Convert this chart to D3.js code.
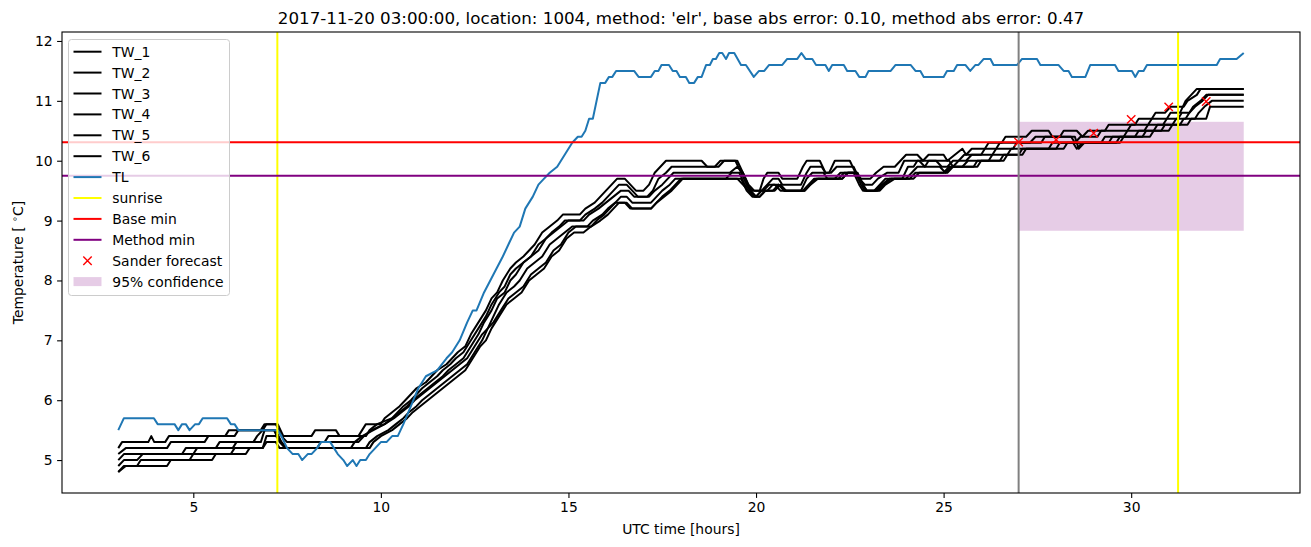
<!DOCTYPE html>
<html><head><meta charset="utf-8">
<script src="https://cdn.jsdelivr.net/npm/d3@7"></script>
<style>body{margin:0;background:#fff;} text{font-family:"DejaVu Sans",sans-serif;fill:#000;}</style>
</head><body><svg id="c" width="1311" height="547"></svg>
<script>
const title = "2017-11-20 03:00:00, location: 1004, method: 'elr', base abs error: 0.10, method abs error: 0.47";
const xLabel = "UTC time [hours]";
const xTicks = [5,10,15,20,25,30];
const yTicks = [5,6,7,8,9,10,11,12];
const twNames = ["TW_1","TW_2","TW_3","TW_4","TW_5","TW_6"];

const TW_1 = [[3.0,5.2],[3.1,5.3],[3.8,5.3],[3.88,5.4],[3.96,5.3],[4.25,5.3],[4.35,5.4],[5.85,5.4],[5.95,5.5],[6.85,5.5],[6.95,5.6],[7.25,5.6],[7.4,5.4],[8.15,5.4],[8.25,5.5],[8.8,5.5],[8.9,5.4],[9.4,5.4],[9.5,5.5],[9.6,5.6],[10.0,5.6],[10.1,5.7],[10.3,5.8],[10.5,5.9],[10.65,6.0],[10.8,6.1],[10.95,6.2],[11.2,6.3],[11.35,6.4],[11.5,6.5],[11.75,6.6],[11.9,6.7],[12.05,6.8],[12.25,6.9],[12.4,7.1],[12.6,7.3],[12.8,7.5],[12.95,7.7],[13.1,7.8],[13.25,8.0],[13.45,8.2],[13.6,8.3],[13.8,8.4],[13.95,8.5],[14.1,8.6],[14.3,8.8],[14.5,8.9],[14.7,9.0],[14.85,9.1],[15.3,9.1],[15.45,9.2],[15.7,9.3],[15.85,9.4],[16.0,9.5],[16.15,9.6],[16.3,9.7],[16.5,9.7],[16.65,9.6],[16.8,9.5],[17.0,9.5],[17.15,9.6],[17.3,9.8],[17.45,9.9],[17.6,10.0],[18.55,10.0],[18.7,9.9],[19.0,9.9],[19.15,10.0],[19.45,10.0],[19.6,9.8],[19.75,9.6],[19.9,9.5],[20.1,9.5],[20.2,9.7],[20.3,9.8],[20.6,9.8],[20.7,9.7],[21.1,9.7],[21.25,9.9],[21.35,10.0],[21.7,10.0],[21.85,9.8],[21.95,9.8],[22.1,10.0],[22.5,10.0],[22.65,9.8],[22.8,9.7],[23.05,9.7],[23.2,9.8],[23.4,9.9],[23.7,9.9],[23.85,10.0],[24.0,10.1],[24.3,10.1],[24.45,10.0],[24.6,10.1],[25.0,10.1],[25.1,10.0],[25.3,10.1],[25.5,10.2],[25.6,10.1],[25.75,10.2],[26.1,10.2],[26.2,10.3],[26.55,10.3],[26.65,10.4],[27.2,10.4],[27.35,10.5],[27.8,10.5],[27.9,10.4],[28.1,10.4],[28.2,10.5],[28.55,10.5],[28.7,10.4],[28.85,10.5],[29.3,10.5],[29.4,10.6],[30.1,10.6],[30.2,10.7],[30.55,10.7],[30.65,10.8],[30.9,10.8],[31.05,10.9],[31.4,10.9],[31.5,11.0],[31.75,11.1],[31.85,11.2],[33.0,11.2]];
const TW_2 = [[3.0,5.1],[3.2,5.2],[4.3,5.2],[4.4,5.3],[5.3,5.3],[5.4,5.4],[6.1,5.4],[6.2,5.5],[6.8,5.5],[6.9,5.6],[7.2,5.6],[7.35,5.4],[7.5,5.3],[8.5,5.3],[8.6,5.4],[9.6,5.4],[9.7,5.5],[9.9,5.6],[10.3,5.7],[10.45,5.8],[10.6,5.9],[10.8,6.0],[10.95,6.1],[11.1,6.2],[11.3,6.3],[11.5,6.4],[11.65,6.5],[11.85,6.6],[12.0,6.7],[12.2,6.8],[12.4,7.0],[12.6,7.2],[12.8,7.4],[12.95,7.6],[13.15,7.8],[13.3,7.9],[13.45,8.1],[13.6,8.2],[13.8,8.3],[14.0,8.4],[14.2,8.6],[14.4,8.7],[14.55,8.8],[14.75,8.9],[14.9,9.0],[15.3,9.0],[15.45,9.1],[15.7,9.2],[15.9,9.3],[16.05,9.4],[16.2,9.5],[16.35,9.6],[16.55,9.6],[16.7,9.5],[16.85,9.4],[17.1,9.4],[17.25,9.5],[17.4,9.7],[17.6,9.8],[17.75,9.9],[18.9,9.9],[19.05,10.0],[19.5,10.0],[19.65,9.8],[19.85,9.5],[20.0,9.4],[20.15,9.5],[20.3,9.6],[20.45,9.7],[20.6,9.7],[20.7,9.6],[21.2,9.6],[21.35,9.8],[21.45,9.9],[21.75,9.9],[21.85,9.8],[22.0,9.8],[22.15,9.9],[22.6,9.9],[22.75,9.7],[22.9,9.6],[23.1,9.6],[23.25,9.7],[23.5,9.8],[23.8,9.8],[23.95,10.0],[24.35,10.0],[24.5,9.9],[24.6,10.0],[25.15,10.0],[25.25,9.9],[25.4,10.0],[25.55,10.1],[26.0,10.1],[26.1,10.2],[26.4,10.2],[26.5,10.3],[27.3,10.3],[27.45,10.4],[28.4,10.4],[28.5,10.3],[28.65,10.4],[29.1,10.4],[29.2,10.5],[29.9,10.5],[30.0,10.6],[30.45,10.6],[30.55,10.7],[30.95,10.7],[31.05,10.8],[31.3,10.8],[31.45,11.0],[31.6,11.1],[31.75,11.2],[33.0,11.2]];
const TW_3 = [[3.0,5.0],[3.15,5.1],[4.7,5.1],[4.8,5.2],[5.6,5.2],[5.7,5.3],[6.6,5.3],[6.7,5.4],[6.85,5.5],[7.2,5.5],[7.35,5.3],[7.5,5.2],[8.3,5.2],[8.4,5.3],[9.4,5.3],[9.55,5.4],[9.75,5.5],[10.1,5.6],[10.3,5.7],[10.5,5.8],[10.7,5.9],[10.85,6.0],[11.05,6.1],[11.25,6.2],[11.45,6.3],[11.65,6.4],[11.8,6.5],[12.0,6.6],[12.2,6.7],[12.4,6.9],[12.6,7.1],[12.75,7.3],[12.95,7.5],[13.1,7.7],[13.3,7.8],[13.45,8.0],[13.6,8.1],[13.8,8.3],[14.0,8.4],[14.2,8.5],[14.4,8.7],[14.6,8.8],[14.8,8.9],[15.0,9.0],[15.4,9.0],[15.55,9.1],[15.8,9.2],[16.0,9.3],[16.2,9.4],[16.4,9.5],[16.6,9.5],[16.75,9.4],[17.15,9.4],[17.3,9.5],[17.5,9.6],[17.65,9.7],[17.8,9.8],[19.3,9.8],[19.5,9.9],[19.65,9.8],[19.8,9.6],[19.95,9.5],[20.2,9.5],[20.35,9.6],[20.5,9.6],[20.65,9.5],[21.2,9.5],[21.35,9.7],[21.5,9.8],[21.8,9.8],[21.9,9.7],[22.1,9.7],[22.25,9.8],[22.7,9.8],[22.85,9.6],[22.95,9.5],[23.15,9.5],[23.3,9.6],[23.45,9.7],[23.9,9.7],[24.05,9.9],[24.2,9.9],[24.3,10.0],[24.8,10.0],[24.95,9.9],[25.1,9.9],[25.25,10.0],[25.6,10.0],[25.75,10.1],[26.3,10.1],[26.4,10.2],[26.85,10.2],[26.95,10.3],[27.6,10.3],[27.7,10.4],[28.5,10.4],[28.6,10.2],[28.75,10.3],[29.2,10.3],[29.3,10.4],[29.8,10.4],[29.9,10.5],[30.35,10.5],[30.45,10.6],[30.85,10.6],[30.95,10.7],[31.25,10.7],[31.35,10.8],[31.55,10.8],[31.65,10.9],[31.85,11.0],[32.0,11.1],[33.0,11.1]];
const TW_4 = [[3.0,4.9],[3.15,5.0],[3.5,5.0],[3.65,5.1],[5.0,5.1],[5.1,5.2],[6.05,5.2],[6.15,5.3],[6.8,5.3],[6.9,5.5],[7.15,5.5],[7.3,5.3],[7.45,5.2],[9.2,5.2],[9.3,5.3],[9.5,5.4],[9.8,5.5],[10.1,5.6],[10.35,5.7],[10.55,5.8],[10.75,5.9],[10.9,6.0],[11.1,6.1],[11.3,6.2],[11.5,6.3],[11.7,6.4],[11.9,6.5],[12.1,6.6],[12.3,6.7],[12.5,6.9],[12.7,7.1],[12.85,7.2],[13.0,7.4],[13.15,7.6],[13.35,7.8],[13.55,7.9],[13.7,8.0],[13.9,8.2],[14.1,8.3],[14.3,8.4],[14.5,8.6],[14.7,8.7],[14.9,8.8],[15.1,8.9],[15.5,8.9],[15.65,9.0],[15.9,9.1],[16.05,9.2],[16.25,9.3],[16.4,9.4],[16.55,9.4],[16.7,9.3],[17.2,9.3],[17.35,9.4],[17.5,9.5],[17.7,9.6],[17.85,9.7],[19.2,9.7],[19.35,9.8],[19.55,9.8],[19.7,9.6],[19.85,9.5],[20.0,9.4],[20.15,9.5],[20.3,9.5],[20.45,9.6],[20.6,9.6],[20.75,9.5],[21.25,9.5],[21.4,9.6],[21.55,9.7],[22.3,9.7],[22.45,9.8],[22.7,9.8],[22.85,9.6],[22.95,9.5],[23.2,9.5],[23.35,9.6],[23.55,9.7],[24.0,9.7],[24.15,9.8],[24.3,9.9],[24.9,9.9],[25.05,9.8],[25.2,9.9],[25.5,9.9],[25.65,10.0],[26.2,10.0],[26.3,10.1],[26.7,10.1],[26.8,10.2],[27.8,10.2],[27.9,10.3],[28.45,10.3],[28.55,10.2],[28.7,10.3],[29.4,10.3],[29.5,10.4],[30.1,10.4],[30.2,10.5],[30.6,10.5],[30.7,10.6],[31.1,10.6],[31.2,10.7],[31.45,10.7],[31.55,10.8],[31.7,10.9],[31.9,11.0],[32.05,11.1],[33.0,11.1]];
const TW_5 = [[3.0,4.8],[3.15,4.9],[3.5,4.9],[3.6,5.0],[4.9,5.0],[5.0,5.1],[6.0,5.1],[6.1,5.2],[6.85,5.2],[6.95,5.4],[7.2,5.4],[7.35,5.3],[7.45,5.2],[9.6,5.2],[9.7,5.3],[9.9,5.4],[10.2,5.5],[10.4,5.6],[10.6,5.7],[10.75,5.8],[10.95,5.9],[11.1,6.0],[11.3,6.1],[11.5,6.2],[11.7,6.3],[11.9,6.4],[12.1,6.5],[12.3,6.6],[12.5,6.8],[12.7,7.0],[12.85,7.2],[13.0,7.3],[13.2,7.5],[13.4,7.7],[13.6,7.8],[13.8,7.9],[14.0,8.1],[14.2,8.2],[14.4,8.3],[14.6,8.5],[14.8,8.6],[15.0,8.8],[15.2,8.9],[15.6,8.9],[15.75,9.0],[15.95,9.1],[16.1,9.2],[16.25,9.3],[16.55,9.3],[16.7,9.2],[17.2,9.2],[17.35,9.3],[17.5,9.4],[17.7,9.5],[17.85,9.6],[18.0,9.7],[19.5,9.7],[19.65,9.6],[19.8,9.5],[19.95,9.4],[20.1,9.4],[20.25,9.5],[20.45,9.5],[20.6,9.6],[20.75,9.5],[21.3,9.5],[21.45,9.6],[21.6,9.7],[22.2,9.7],[22.35,9.8],[22.65,9.8],[22.8,9.6],[22.9,9.5],[23.25,9.5],[23.4,9.6],[23.6,9.7],[24.1,9.7],[24.25,9.8],[25.0,9.8],[25.15,9.9],[25.8,9.9],[25.9,10.0],[26.5,10.0],[26.6,10.1],[27.0,10.1],[27.1,10.2],[28.0,10.2],[28.1,10.3],[29.6,10.3],[29.7,10.4],[30.3,10.4],[30.4,10.5],[30.8,10.5],[30.9,10.6],[31.3,10.6],[31.4,10.7],[31.7,10.7],[31.8,10.8],[31.95,10.9],[32.15,11.0],[33.0,11.0]];
const TW_6 = [[3.0,4.8],[3.2,4.9],[4.3,4.9],[4.4,5.0],[5.5,5.0],[5.6,5.1],[6.4,5.1],[6.5,5.2],[6.85,5.2],[6.95,5.3],[7.2,5.3],[7.3,5.2],[9.7,5.2],[9.8,5.3],[10.0,5.4],[10.3,5.5],[10.5,5.6],[10.7,5.7],[10.85,5.8],[11.05,5.9],[11.25,6.0],[11.45,6.1],[11.65,6.2],[11.85,6.3],[12.05,6.4],[12.25,6.5],[12.45,6.7],[12.65,6.9],[12.8,7.0],[12.95,7.2],[13.15,7.4],[13.35,7.6],[13.55,7.7],[13.75,7.8],[13.95,8.0],[14.15,8.1],[14.35,8.2],[14.55,8.4],[14.75,8.5],[14.95,8.7],[15.15,8.8],[15.4,8.8],[15.6,8.9],[15.85,9.0],[16.05,9.1],[16.2,9.2],[16.35,9.3],[16.5,9.3],[16.65,9.2],[17.2,9.2],[17.35,9.3],[17.55,9.4],[17.75,9.5],[17.9,9.6],[18.05,9.7],[19.6,9.7],[19.75,9.5],[19.9,9.4],[20.1,9.4],[20.25,9.5],[20.5,9.5],[20.65,9.6],[20.8,9.5],[21.3,9.5],[21.45,9.6],[21.65,9.7],[22.3,9.7],[22.45,9.8],[22.6,9.8],[22.75,9.6],[22.85,9.5],[23.3,9.5],[23.45,9.6],[23.7,9.7],[24.2,9.7],[24.35,9.8],[25.1,9.8],[25.25,9.9],[25.9,9.9],[26.0,10.0],[26.6,10.0],[26.7,10.1],[27.1,10.1],[27.2,10.2],[28.2,10.2],[28.3,10.3],[29.7,10.3],[29.8,10.4],[30.5,10.4],[30.6,10.5],[31.0,10.5],[31.1,10.6],[31.5,10.6],[31.6,10.7],[32.0,10.7],[32.1,10.9],[33.0,10.9]];

const TL = [[3.0,5.5],[3.15,5.7],[3.95,5.7],[4.05,5.6],[4.5,5.6],[4.6,5.5],[4.7,5.6],[4.8,5.6],[4.9,5.5],[5.05,5.6],[5.15,5.6],[5.25,5.7],[5.9,5.7],[6.0,5.6],[6.1,5.6],[6.2,5.5],[7.1,5.5],[7.25,5.5],[7.35,5.4],[7.5,5.2],[7.65,5.1],[7.8,5.1],[7.9,5.0],[8.05,5.1],[8.15,5.1],[8.3,5.2],[8.4,5.3],[8.65,5.3],[8.75,5.2],[8.85,5.1],[9.0,5.0],[9.1,4.9],[9.25,5.0],[9.35,4.9],[9.45,5.0],[9.6,5.0],[9.7,5.1],[9.85,5.2],[10.0,5.3],[10.15,5.3],[10.3,5.4],[10.45,5.4],[10.6,5.6],[10.8,5.9],[11.0,6.2],[11.2,6.4],[11.5,6.5],[11.75,6.7],[11.9,6.8],[12.1,7.0],[12.3,7.3],[12.45,7.5],[12.55,7.5],[12.75,7.8],[13.0,8.1],[13.25,8.4],[13.4,8.6],[13.55,8.8],[13.7,8.9],[13.85,9.2],[14.05,9.4],[14.2,9.6],[14.35,9.7],[14.5,9.8],[14.7,9.9],[14.9,10.1],[15.1,10.3],[15.25,10.4],[15.35,10.4],[15.45,10.5],[15.55,10.7],[15.65,10.7],[15.85,11.3],[15.98,11.3],[16.08,11.4],[16.17,11.4],[16.27,11.5],[16.75,11.5],[16.87,11.4],[17.2,11.4],[17.3,11.5],[17.4,11.5],[17.48,11.6],[17.68,11.6],[17.78,11.5],[17.88,11.5],[17.97,11.4],[18.13,11.4],[18.22,11.3],[18.35,11.3],[18.45,11.4],[18.55,11.4],[18.67,11.6],[18.77,11.6],[18.85,11.7],[18.93,11.7],[19.02,11.8],[19.1,11.8],[19.2,11.7],[19.28,11.8],[19.42,11.8],[19.6,11.6],[19.73,11.6],[19.94,11.4],[20.08,11.5],[20.22,11.5],[20.35,11.6],[20.7,11.6],[20.83,11.7],[21.1,11.7],[21.21,11.8],[21.32,11.7],[21.5,11.7],[21.6,11.6],[21.85,11.6],[21.94,11.5],[22.03,11.6],[22.34,11.6],[22.43,11.5],[22.65,11.5],[22.75,11.4],[22.92,11.4],[23.0,11.5],[23.59,11.5],[23.72,11.6],[24.12,11.6],[24.25,11.5],[24.38,11.5],[24.47,11.4],[25.0,11.4],[25.09,11.5],[25.27,11.5],[25.36,11.6],[25.58,11.6],[25.71,11.5],[25.85,11.6],[25.93,11.6],[26.07,11.7],[26.25,11.7],[26.33,11.6],[26.96,11.6],[27.09,11.7],[27.49,11.7],[27.58,11.6],[28.06,11.6],[28.2,11.5],[28.33,11.5],[28.42,11.4],[28.78,11.4],[28.91,11.6],[29.57,11.6],[29.66,11.5],[30.02,11.5],[30.11,11.4],[30.2,11.5],[30.33,11.5],[30.42,11.6],[32.28,11.6],[32.37,11.7],[32.81,11.7],[33.0,11.8]];

const sunriseTimes = [7.24, 31.25];
const baseMin = 10.31;
const methodMin = 9.75;
const forecastStart = 27;
const sanderHours = [27, 28, 29, 30, 31, 32];
const sanderValues = [10.31, 10.35, 10.46, 10.69, 10.9, 10.99];
const confLow = 8.83, confHigh = 10.65, confStart = 27, confEnd = 33;
const legendLabels = ["TW_1","TW_2","TW_3","TW_4","TW_5","TW_6","TL","sunrise","Base min","Method min","Sander forecast","95% confidence"];

const twSeries = [TW_1, TW_2, TW_3, TW_4, TW_5, TW_6];

const L = 62, R = 1300, T = 32, B = 493;
const svg = d3.select("#c");
const x = d3.scaleLinear().domain([1.5, 34.5]).range([L, R]);
const y = d3.scaleLinear().domain([4.45, 12.15]).range([B, T]);

svg.append("defs").append("clipPath").attr("id","clip")
  .append("rect").attr("x",L).attr("y",T).attr("width",R-L).attr("height",B-T);
const plot = svg.append("g").attr("clip-path","url(#clip)");

plot.append("rect")
  .attr("x", x(confStart)).attr("width", x(confEnd)-x(confStart))
  .attr("y", y(confHigh)).attr("height", y(confLow)-y(confHigh))
  .attr("fill", "purple").attr("fill-opacity", 0.2);

const line = d3.line().x(d=>x(d[0])).y(d=>y(d[1]));
twSeries.forEach(s => {
  plot.append("path").datum(s).attr("d", line).attr("fill","none")
    .attr("stroke","#000").attr("stroke-width",2).attr("stroke-linejoin","round");
});
plot.append("path").datum(TL).attr("d", line).attr("fill","none")
  .attr("stroke","#1f77b4").attr("stroke-width",2).attr("stroke-linejoin","round");

sunriseTimes.forEach(t => {
  plot.append("line").attr("x1",x(t)).attr("x2",x(t)).attr("y1",T).attr("y2",B)
    .attr("stroke","yellow").attr("stroke-width",2);
});
plot.append("line").attr("x1",L).attr("x2",R).attr("y1",y(baseMin)).attr("y2",y(baseMin))
  .attr("stroke","red").attr("stroke-width",2);
plot.append("line").attr("x1",L).attr("x2",R).attr("y1",y(methodMin)).attr("y2",y(methodMin))
  .attr("stroke","purple").attr("stroke-width",2);
plot.append("line").attr("x1",x(forecastStart)).attr("x2",x(forecastStart)).attr("y1",T).attr("y2",B)
  .attr("stroke","gray").attr("stroke-width",2);

const xm = 4.2;
sanderHours.forEach((h,i) => {
  const cx = x(h), cy = y(sanderValues[i]);
  plot.append("path").attr("d",`M${cx-xm},${cy-xm}L${cx+xm},${cy+xm}M${cx-xm},${cy+xm}L${cx+xm},${cy-xm}`)
    .attr("stroke","red").attr("stroke-width",1.4).attr("fill","none");
});

const fs = 13.9;
const xAxis = svg.append("g").attr("transform",`translate(0,${B})`)
  .call(d3.axisBottom(x).tickValues(xTicks).tickSize(4.9).tickPadding(4.5).tickFormat(d3.format("d")));
const yAxis = svg.append("g").attr("transform",`translate(${L},0)`)
  .call(d3.axisLeft(y).tickValues(yTicks).tickSize(4.9).tickPadding(4.5).tickFormat(d3.format("d")));
[xAxis, yAxis].forEach(a => {
  a.select(".domain").remove();
  a.selectAll("text").attr("font-size", fs).attr("font-family","DejaVu Sans").attr("fill","#000");
  a.selectAll("line").attr("stroke","#000").attr("stroke-width",1.1);
});
svg.append("rect").attr("x",L).attr("y",T).attr("width",R-L).attr("height",B-T)
  .attr("fill","none").attr("stroke","#000").attr("stroke-width",1.1);

svg.append("text").attr("x",(L+R)/2).attr("y",24).attr("text-anchor","middle")
  .attr("font-size",16.7).text(title);
svg.append("text").attr("x",(L+R)/2).attr("y",534).attr("text-anchor","middle")
  .attr("font-size",fs).text(xLabel);
const yl = svg.append("text").attr("transform",`translate(23,${(T+B)/2}) rotate(-90)`)
  .attr("text-anchor","middle").attr("font-size",fs);
yl.append("tspan").text("Temperature [ ");
yl.append("tspan").attr("font-size",9.5).attr("dy",-5).text("∘");
yl.append("tspan").attr("dy",5).text("C]");

const lg = svg.append("g");
lg.append("rect").attr("x",68.5).attr("y",39.5).attr("width",161).attr("height",256).attr("rx",3)
  .attr("fill","#fff").attr("fill-opacity",0.8).attr("stroke","#ccc").attr("stroke-width",1);
const legColors = ["#000","#000","#000","#000","#000","#000","#1f77b4","yellow","red","purple"];
legendLabels.forEach((lab,i) => {
  const yy = 51.7 + i*20.9;
  if (i < 10) {
    lg.append("line").attr("x1",73.5).attr("x2",101.5).attr("y1",yy).attr("y2",yy)
      .attr("stroke",legColors[i]).attr("stroke-width",2);
  } else if (i === 10) {
    const cx = 87.5;
    lg.append("path").attr("d",`M${cx-xm},${yy-xm}L${cx+xm},${yy+xm}M${cx-xm},${yy+xm}L${cx+xm},${yy-xm}`)
      .attr("stroke","red").attr("stroke-width",1.4);
  } else {
    lg.append("rect").attr("x",73.5).attr("y",yy-4.5).attr("width",28).attr("height",9)
      .attr("fill","purple").attr("fill-opacity",0.2);
  }
  lg.append("text").attr("x",112.3).attr("y",yy+5).attr("font-size",fs).text(lab);
});
</script></body></html>
